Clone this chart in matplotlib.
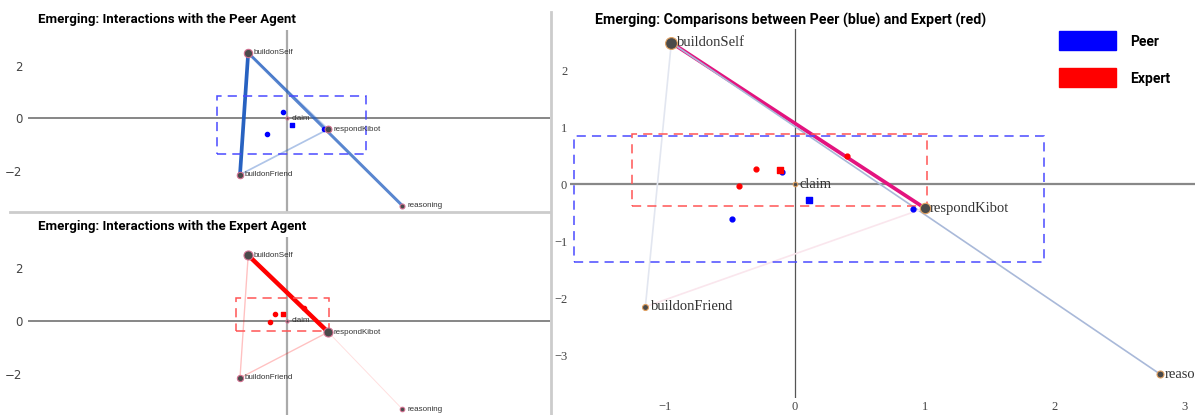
import numpy as np
import matplotlib
matplotlib.use("Agg")
import matplotlib.pyplot as plt
from matplotlib.lines import Line2D
from matplotlib.patches import Rectangle

W, H = 1195, 415

# network nodes (shared layout for all three plots)
nodes = ["buildonSelf", "respondKibot", "claim", "buildonFriend", "reasoning"]
node_x = [-0.95, 1.00, 0.00, -1.15, 2.81]
node_y = [2.48, -0.42, 0.00, -2.15, -3.33]

# node sizes per plot (relative code frequency)
peer_sizes = [1.0, 0.75, 0.15, 0.7, 0.45]
expert_sizes = [1.0, 1.0, 0.15, 0.6, 0.35]
comp_sizes = [1.0, 0.85, 0.25, 0.4, 0.5]

# edges and weights
peer_edges = [("buildonSelf", "buildonFriend"), ("buildonSelf", "reasoning"),
              ("buildonSelf", "respondKibot"), ("buildonFriend", "respondKibot")]
peer_weights = [0.8, 0.6, 0.2, 0.25]

expert_edges = [("buildonSelf", "respondKibot"), ("buildonSelf", "buildonFriend"),
                ("buildonFriend", "respondKibot"), ("respondKibot", "reasoning")]
expert_weights = [1.0, 0.15, 0.15, 0.04]

comp_edges = [("buildonSelf", "respondKibot"), ("buildonSelf", "reasoning"),
              ("buildonSelf", "buildonFriend"), ("buildonFriend", "respondKibot")]
comp_weights = [0.85, 0.3, 0.1, 0.05]
comp_groups = ["expert", "peer", "peer", "expert"]

# unit points and group means
peer_pts_x = [-0.48, 0.91, -0.10]
peer_pts_y = [-0.61, -0.43, 0.22]
peer_mean = (0.11, -0.27)
peer_ci_x = (-1.70, 1.92)
peer_ci_y = (-1.37, 0.85)

expert_pts_x = [-0.30, -0.43, 0.40]
expert_pts_y = [0.27, -0.03, 0.49]
expert_mean = (-0.11, 0.245)
expert_ci_x = (-1.25, 1.02)
expert_ci_y = (-0.39, 0.88)

PEER = "#1f5cbf"
EXPERT = "#ff0000"


def box(l, t, r, b):
    return [l / W, 1 - b / H, (r - l) / W, (b - t) / H]


def pos(name):
    i = nodes.index(name)
    return node_x[i], node_y[i]


def draw_edges(ax, edges, weights, color):
    for (a, b), w in zip(edges, weights):
        (x0, y0), (x1, y1) = pos(a), pos(b)
        ax.plot([x0, x1], [y0, y1], color=color, lw=0.6 + 2.6 * w,
                alpha=min(1, 0.08 + 1.1 * w), solid_capstyle="round", zorder=2)


def draw_nodes(ax, sizes, scale, edge, font, fsize, dx):
    for name, x, y, s in zip(nodes, node_x, node_y, sizes):
        ax.plot(x, y, "o", ms=1.5 + scale * s, mfc="#4a4a4a", mec=edge,
                mew=0.8, zorder=5)
        ax.text(x + dx, y, name, fontsize=fsize, family=font, color="#333",
                va="center", ha="left", zorder=6)


def draw_ci(ax, cx, cy, color):
    ax.add_patch(Rectangle((cx[0], cy[0]), cx[1] - cx[0], cy[1] - cy[0],
                           fill=False, ec=color, lw=1.1, ls=(0, (6, 4)),
                           zorder=3))


def setup_small(ax, ylim):
    ax.set_xlim(-6.32, 6.41)
    ax.set_ylim(*ylim)
    for s in ax.spines.values():
        s.set_visible(False)
    ax.axhline(0, color="#666", lw=1.1, zorder=1)
    ax.axvline(0, color="#aaa", lw=1.6, zorder=1)
    ax.set_xticks([])
    ax.set_yticks([-2, 0, 2])
    ax.tick_params(length=0, labelsize=8.5, labelcolor="#444", pad=4)


fig = plt.figure(figsize=(W / 100, H / 100), dpi=100)

# peer network
ax1 = fig.add_axes(box(28, 30, 550, 212))
setup_small(ax1, (-3.57, 3.35))
draw_edges(ax1, peer_edges, peer_weights, PEER)
draw_ci(ax1, peer_ci_x, peer_ci_y, "#4a4aff")
ax1.scatter(peer_pts_x, peer_pts_y, s=9, color="blue", zorder=4)
ax1.scatter(*peer_mean, s=8, marker="s", color="blue", zorder=4)
draw_nodes(ax1, peer_sizes, 4.5, "#d07090", "Liberation Sans", 5.8, 0.12)
fig.text(38 / W, 1 - 20 / H, "Emerging: Interactions with the Peer Agent",
         family="Roboto", weight="bold", fontsize=9.5, va="center")

# expert network
ax2 = fig.add_axes(box(28, 237, 550, 415))
setup_small(ax2, (-3.55, 3.17))
draw_edges(ax2, expert_edges, expert_weights, EXPERT)
draw_ci(ax2, expert_ci_x, expert_ci_y, "#ff5555")
ax2.scatter(expert_pts_x, expert_pts_y, s=9, color="red", zorder=4)
ax2.scatter(*expert_mean, s=8, marker="s", color="red", zorder=4)
draw_nodes(ax2, expert_sizes, 5.0, "#d07090", "Liberation Sans", 5.8, 0.12)
fig.text(38 / W, 1 - 226 / H, "Emerging: Interactions with the Expert Agent",
         family="Roboto", weight="bold", fontsize=9.5, va="center")

# comparison (subtraction) network
ax3 = fig.add_axes(box(570, 29, 1195, 398))
ax3.set_xlim(-1.73, 3.08)
ax3.set_ylim(-3.75, 2.72)
for s in ax3.spines.values():
    s.set_visible(False)
ax3.axhline(0, color="#888", lw=1.6, zorder=1)
ax3.axvline(0, color="#555", lw=0.9, zorder=1)
ax3.set_xticks([-1, 0, 1, 2, 3])
ax3.set_yticks([-3, -2, -1, 0, 1, 2])
ax3.set_xticklabels(["\u22121", "0", "1", "2", "3"])
ax3.set_yticklabels(["\u22123", "\u22122", "\u22121", "0", "1", "2"])
ax3.tick_params(length=0, labelsize=9, labelcolor="#444", pad=2)
for lab in ax3.get_xticklabels() + ax3.get_yticklabels():
    lab.set_family("Liberation Serif")

# strong edges in saturated colour, weak ones washed out
comp_style = {"expert": ("#e3137f", "#fae6ed"), "peer": ("#a9b9d9", "#e2e6f0")}
for (a, b), w, g in zip(comp_edges, comp_weights, comp_groups):
    (x0, y0), (x1, y1) = pos(a), pos(b)
    strong, weak = comp_style[g]
    ax3.plot([x0, x1], [y0, y1], color=strong if w > 0.2 else weak,
             lw=0.8 + 2.2 * w if w > 0.5 else 1.2, zorder=2)
draw_ci(ax3, peer_ci_x, peer_ci_y, "#4a4aff")
draw_ci(ax3, expert_ci_x, expert_ci_y, "#ff5555")
ax3.scatter(peer_pts_x, peer_pts_y, s=12, color="blue", zorder=4)
ax3.scatter(expert_pts_x, expert_pts_y, s=12, color="red", zorder=4)
ax3.scatter(*peer_mean, s=14, marker="s", color="blue", zorder=4)
ax3.scatter(*expert_mean, s=16, marker="s", color="red", zorder=4)
draw_nodes(ax3, comp_sizes, 7.0, "#e0a060", "Liberation Serif", 10.5, 0.04)
fig.text(595 / W, 1 - 20 / H,
         "Emerging: Comparisons between Peer (blue) and Expert (red)",
         family="Roboto", weight="bold", fontsize=10.2, va="center")

# legend
for label, color, top in [("Peer", "blue", 31), ("Expert", "red", 68)]:
    fig.add_artist(Rectangle((1059 / W, 1 - (top + 19) / H), 57 / W, 19 / H,
                             color=color, transform=fig.transFigure))
    fig.text(1130 / W, 1 - (top + 11) / H, label, family="Roboto",
             weight="bold", fontsize=10, va="center")

# panel separators
fig.add_artist(Line2D([551 / W, 551 / W], [0, 1 - 12 / H], color="#ccc",
                      lw=2, transform=fig.transFigure))
fig.add_artist(Line2D([10 / W, 550 / W], [1 - 212 / H, 1 - 212 / H],
                      color="#ccc", lw=2, transform=fig.transFigure))

fig.savefig("out.png", dpi=100)
